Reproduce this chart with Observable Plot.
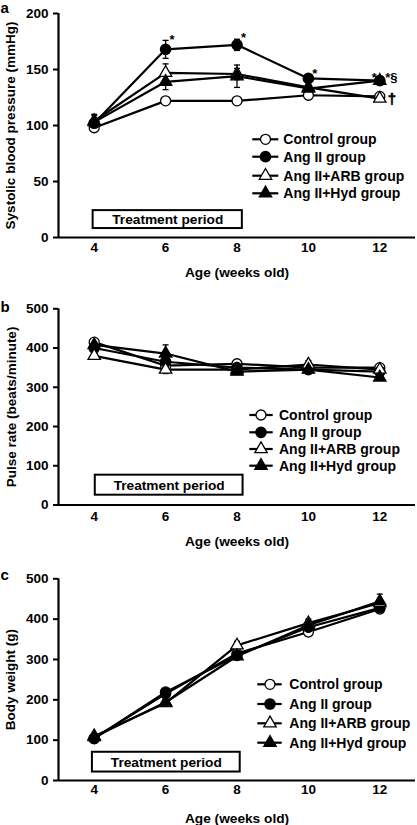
<!DOCTYPE html>
<html>
<head>
<meta charset="utf-8">
<script src="https://cdn.jsdelivr.net/npm/d3@7"></script>
<script src="https://cdn.jsdelivr.net/npm/@observablehq/plot@0.6"></script>
<style>
  html, body { margin: 0; padding: 0; background: #fff; }
  #chart svg { display: block; }
</style>
</head>
<body>
<div id="chart"></div>
<script>
// ---------- data ----------
const weeks = [4, 6, 8, 10, 12];
const xDomain = [3, 13];
const groups = ["Control group", "Ang II group", "Ang II+ARB group", "Ang II+Hyd group"];
const treatmentLabel = "Treatment period";

// (a) systolic blood pressure, mmHg
const sbpControl = [98, 122, 122, 127, 126];
const sbpAngII   = [102, 168, 172, 142, 140];
const sbpARB     = [104, 147, 146, 134, 124];
const sbpHyd     = [103, 139, 144, 133, 140];
const sbpErrControl = [3, 2, 2, 2, 2];
const sbpErrAngII   = [4, 8, 5, 3, 2];
const sbpErrARB     = [5, 8, 5, 3, 2];
const sbpErrHyd     = [7, 7, 10, 3, 2];
const sbpTicks = [0, 50, 100, 150, 200];
const sbpStars = [
  {group: "Ang II group", week: 6, text: "*", side: "right"},
  {group: "Ang II group", week: 8, text: "*", side: "right"},
  {group: "Ang II group", week: 10, text: "*", side: "right"},
  {group: "Ang II group", week: 12, text: "*", side: "left"},
  {group: "Ang II+Hyd group", week: 12, text: "*§", side: "after"}
];
const sbpDagger = [{group: "Ang II+ARB group", week: 12, text: "†"}];

// (b) pulse rate, beats/minute
const prControl = [415, 355, 360, 350, 350];
const prAngII   = [400, 365, 350, 345, 340];
const prARB     = [380, 345, 345, 358, 345];
const prHyd     = [408, 386, 340, 345, 325];
const prErrControl = [6, 8, 6, 6, 6];
const prErrAngII   = [8, 8, 6, 6, 6];
const prErrARB     = [8, 10, 8, 10, 6];
const prErrHyd     = [8, 22, 6, 6, 6];
const prTicks = [0, 100, 200, 300, 400, 500];

// (c) body weight, g
const bwControl = [105, 215, 315, 368, 425];
const bwAngII   = [104, 219, 310, 380, 428];
const bwARB     = [110, 192, 335, 390, 440];
const bwHyd     = [108, 194, 308, 385, 444];
const bwErrControl = [3, 5, 5, 5, 5];
const bwErrAngII   = [3, 5, 5, 5, 5];
const bwErrARB     = [5, 8, 10, 10, 8];
const bwErrHyd     = [5, 8, 5, 8, 18];
const bwTicks = [0, 100, 200, 300, 400, 500];

// ---------- styling / layout ----------
const FONT = '"Liberation Sans", Arial, Helvetica, sans-serif';
const groupStyles = [
  {symbol: "circle", fill: "white", r: 5},
  {symbol: "circle", fill: "black", r: 5.2},
  {symbol: "triangle", fill: "white", r: 4.6},
  {symbol: "triangle", fill: "black", r: 4.6}
];
const capSymbol = {draw(ctx) { ctx.moveTo(-3, 0); ctx.lineTo(3, 0); }};

const panels = [
  {label: "a", labelY: 13, height: 280, mt: 13, mb: 43, yDomain: [0, 200], yTicks: sbpTicks,
   yTitle: "Systolic blood pressure (mmHg)", yTitleX: 10, xTitleDy: 35, xTickPad: 4.6,
   values: [sbpControl, sbpAngII, sbpARB, sbpHyd],
   errors: [sbpErrControl, sbpErrAngII, sbpErrARB, sbpErrHyd],
   boxX: [3.97, 8.15], boxY: [8, 24],
   legend: {x1: 252.3, x2: 278.3, mx: 265.5, tx: 283.3, rows: [139.3, 156.7, 175.7, 193.3]},
   stars: sbpStars, dagger: sbpDagger},
  {label: "b", labelY: 32, height: 272, mt: 28.3, mb: 47.5, yDomain: [0, 500], yTicks: prTicks,
   yTitle: "Pulse rate (beats/minute)", yTitleX: 11.5, xTitleDy: 37, xTickPad: 6.2,
   values: [prControl, prAngII, prARB, prHyd],
   errors: [prErrControl, prErrAngII, prErrARB, prErrHyd],
   boxX: [4.03, 8.17], boxY: [25, 76],
   legend: {x1: 249.3, x2: 272.7, mx: 261, tx: 279, rows: [135, 152.3, 169, 185.7]}},
  {label: "c", labelY: 28, height: 273, mt: 26.3, mb: 45, yDomain: [0, 500], yTicks: bwTicks,
   yTitle: "Body weight (g)", yTitleX: 10, xTitleDy: 38, xTickPad: 4.2,
   values: [bwControl, bwAngII, bwARB, bwHyd],
   errors: [bwErrControl, bwErrAngII, bwErrARB, bwErrHyd],
   boxX: [3.95, 8.09], boxY: [21, 70],
   legend: {x1: 257.3, x2: 281.7, mx: 270, tx: 289.3, rows: [132.3, 152, 171.3, 190.7]}}
];

const W = 417, ML = 58, MR = 2;

function makePanel(cfg) {
  const rows = [];
  groups.forEach((g, gi) => weeks.forEach((w, wi) =>
    rows.push({group: g, gi, week: w, value: cfg.values[gi][wi], err: cfg.errors[gi][wi]})));
  const lookup = (a) => rows.find(r => r.group === a.group && r.week === a.week);

  const marks = [
    // treatment period box
    Plot.rect([{x1: cfg.boxX[0], x2: cfg.boxX[1], y1: cfg.boxY[0], y2: cfg.boxY[1]}],
      {x1: "x1", x2: "x2", y1: "y1", y2: "y2", fill: "white", stroke: "black", strokeWidth: 2}),
    Plot.text([treatmentLabel], {x: (cfg.boxX[0] + cfg.boxX[1]) / 2, y: (cfg.boxY[0] + cfg.boxY[1]) / 2,
      text: d => d, fontSize: 13.7, fontWeight: "bold", fill: "black", lineAnchor: "middle"}),
    // error bars
    Plot.ruleX(rows, {x: "week", y1: d => d.value - d.err, y2: d => d.value + d.err, stroke: "black", strokeWidth: 1.3}),
    Plot.dot(rows, {x: "week", y: d => d.value + d.err, symbol: capSymbol, r: 3, stroke: "black", fill: "none", strokeWidth: 1.3}),
    Plot.dot(rows, {x: "week", y: d => d.value - d.err, symbol: capSymbol, r: 3, stroke: "black", fill: "none", strokeWidth: 1.3}),
    // lines
    Plot.line(rows, {x: "week", y: "value", z: "group", stroke: "black", strokeWidth: 2.2}),
    // markers
    ...groupStyles.map((s, gi) => Plot.dot(rows.filter(d => d.gi === gi),
      {x: "week", y: "value", symbol: s.symbol, r: s.r, fill: s.fill, stroke: "black", strokeWidth: 1.3})),
    // axis lines
    Plot.ruleX([xDomain[0]], {y1: cfg.yDomain[0], y2: cfg.yDomain[1], stroke: "black", strokeWidth: 2.2}),
    Plot.ruleY([cfg.yDomain[0]], {x1: xDomain[0], x2: xDomain[1], stroke: "black", strokeWidth: 2.2}),
    Plot.axisY(cfg.yTicks, {tickSize: 5, tickPadding: 5, strokeWidth: 2, fontSize: 13.5, fontWeight: "bold", fill: "black", label: null}),
    Plot.axisX(weeks, {tickSize: 0, tickPadding: cfg.xTickPad, fontSize: 13.5, fontWeight: "bold", fill: "black", label: null}),
    // axis titles
    Plot.text([cfg.yTitle], {frameAnchor: "left", dx: cfg.yTitleX - ML, rotate: -90, text: d => d,
      fontSize: 13.5, fontWeight: "bold", fill: "black", textAnchor: "middle", lineAnchor: "middle"}),
    Plot.text(["Age (weeks old)"], {frameAnchor: "bottom", dy: cfg.xTitleDy, text: d => d,
      fontSize: 13.7, fontWeight: "bold", fill: "black", lineAnchor: "middle"})
  ];

  if (cfg.stars) {
    const starRows = cfg.stars.map(a => ({...a, p: lookup(a)}));
    const opts = {x: d => d.week, y: d => d.p.value + d.p.err, text: "text", fontSize: 13, fontWeight: "bold", fill: "black", lineAnchor: "middle"};
    marks.push(Plot.text(starRows.filter(d => d.side === "right"), {...opts, dx: 6.5, dy: -1}));
    marks.push(Plot.text(starRows.filter(d => d.side === "left"), {...opts, dx: -5.5, dy: -1}));
    marks.push(Plot.text(starRows.filter(d => d.side === "after"), {...opts, dx: 5.5, dy: -1, textAnchor: "start"}));
  }
  if (cfg.dagger) {
    const dRows = cfg.dagger.map(a => ({...a, p: lookup(a)}));
    marks.push(Plot.text(dRows, {x: d => d.week, y: d => d.p.value, text: "text", dx: 12, dy: 1,
      fontSize: 15, fontWeight: "bold", fill: "black", stroke: "black", strokeWidth: 0.6, lineAnchor: "middle"}));
  }

  const svg = Plot.plot({
    width: W, height: cfg.height,
    marginLeft: ML, marginRight: MR, marginTop: cfg.mt, marginBottom: cfg.mb,
    style: {fontFamily: FONT, fontSize: "13.5px", fontWeight: "bold", color: "black", background: "white", overflow: "visible"},
    x: {domain: xDomain},
    y: {domain: cfg.yDomain},
    marks
  });

  // panel letter and legend (layout elements)
  const s = d3.select(svg);
  s.append("text").attr("x", 0.5).attr("y", cfg.labelY).text(cfg.label)
    .attr("text-anchor", "start")
    .attr("font-family", FONT).attr("font-size", 15).attr("font-weight", "bold").attr("fill", "black");
  const L = cfg.legend;
  const g = s.append("g").attr("text-anchor", "start");
  groups.forEach((name, gi) => {
    const y = L.rows[gi];
    const st = groupStyles[gi];
    g.append("line").attr("x1", L.x1).attr("x2", L.x2).attr("y1", y).attr("y2", y)
      .attr("stroke", "black").attr("stroke-width", 2.2);
    const sym = st.symbol === "circle" ? d3.symbolCircle : d3.symbolTriangle;
    g.append("path").attr("d", d3.symbol(sym, Math.PI * st.r * st.r)())
      .attr("transform", `translate(${L.mx},${y})`)
      .attr("fill", st.fill).attr("stroke", "black").attr("stroke-width", 1.3);
    g.append("text").attr("x", L.tx).attr("y", y).attr("dy", "0.36em").text(name)
      .attr("text-anchor", "start")
      .attr("font-family", FONT).attr("font-size", 14).attr("font-weight", "bold").attr("fill", "black");
  });
  return svg;
}

const container = document.getElementById("chart");
panels.forEach(p => container.appendChild(makePanel(p)));
</script>
</body>
</html>
